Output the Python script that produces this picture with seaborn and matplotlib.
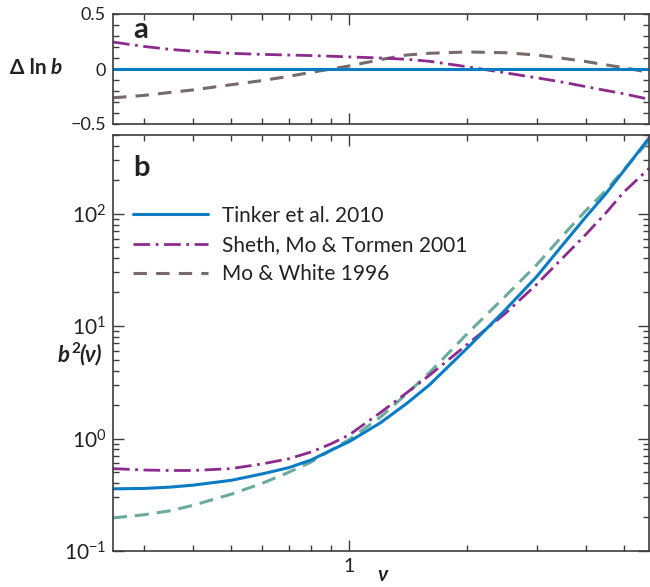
import numpy as np
import pandas as pd
import matplotlib
matplotlib.use("Agg")
import matplotlib.pyplot as plt
import matplotlib.ticker as mticker
import seaborn as sns

# Peak height grid
nu = [0.25, 0.3, 0.35, 0.4, 0.5, 0.6, 0.7, 0.8, 0.9, 1.0, 1.2, 1.4, 1.6,
      2.0, 2.5, 3.0, 3.5, 4.0, 4.5, 5.0, 5.8]

# b^2(nu) for each bias model
b2_tinker = [0.357, 0.36, 0.37, 0.385, 0.425, 0.485, 0.55, 0.645, 0.79, 0.94,
             1.38, 2.05, 3.0, 6.4, 14.0, 27.5, 53, 93, 150, 240, 470]
b2_smt = [0.54, 0.525, 0.52, 0.52, 0.54, 0.595, 0.66, 0.76, 0.9, 1.08,
          1.7, 2.55, 3.65, 6.9, 13.0, 23.5, 40.5, 65, 101, 155, 252]
b2_mw = [0.197, 0.21, 0.228, 0.255, 0.32, 0.40, 0.50, 0.62, 0.79, 0.98,
         1.55, 2.5, 3.85, 8.6, 18.5, 35, 64, 106, 160, 245, 445]

# Delta ln b relative to Tinker et al. 2010
dlnb_tinker = [0.0] * len(nu)
dlnb_smt = [0.245, 0.205, 0.178, 0.162, 0.142, 0.133, 0.127, 0.122, 0.116, 0.11,
            0.10, 0.088, 0.07, 0.02, -0.035, -0.08, -0.12, -0.16, -0.195, -0.225, -0.275]
dlnb_mw = [-0.262, -0.24, -0.213, -0.19, -0.143, -0.105, -0.067, -0.03, 0.0, 0.028,
           0.085, 0.127, 0.143, 0.155, 0.148, 0.127, 0.097, 0.068, 0.038, 0.012, -0.03]

labels = ["Tinker et al. 2010", "Sheth, Mo & Tormen 2001", "Mo & White 1996"]

sns.set_style("ticks")
plt.rcParams["font.family"] = ["Lato", "DejaVu Sans"]
plt.rcParams["mathtext.fontset"] = "custom"
plt.rcParams["mathtext.rm"] = "Lato"
plt.rcParams["mathtext.it"] = "Lato:italic"
plt.rcParams["mathtext.bf"] = "Lato:bold"
plt.rcParams["axes.unicode_minus"] = True

BLUE = "#0a7cc4"
PURPLE = "#8c2a8e"
GREY = "#786a6b"
TEAL = "#6aab9e"
SPINE = "#3c3c3c"
INK = "#222222"

solid = "-"
dashdot = (0, (6.0, 2.0, 1.0, 2.0))
dashed = (0, (4.4, 3.0))
dashed_teal = (0, (4.6, 2.6))
LW = 2.0

df = pd.DataFrame({"nu": nu, "tinker": b2_tinker, "smt": b2_smt, "mw": b2_mw,
                   "d_tinker": dlnb_tinker, "d_smt": dlnb_smt, "d_mw": dlnb_mw})

fig = plt.figure(figsize=(6.5, 5.87), dpi=100)
W, H = 650.0, 587.0
left, right = 113 / W, 649 / W
ax_a = fig.add_axes([left, 1 - 124 / H, right - left, (124 - 14) / H])
ax_b = fig.add_axes([left, 1 - 551 / H, right - left, (551 - 135) / H])

# Panel a: relative difference in ln b
sns.lineplot(data=df, x="nu", y="d_mw", ax=ax_a, color=GREY, lw=LW + 0.2,
             linestyle=dashed, label=labels[2])
sns.lineplot(data=df, x="nu", y="d_smt", ax=ax_a, color=PURPLE, lw=LW,
             linestyle=dashdot, label=labels[1])
sns.lineplot(data=df, x="nu", y="d_tinker", ax=ax_a, color=BLUE, lw=LW + 0.2,
             linestyle=solid, label=labels[0])
ax_a.get_legend().remove()

# Panel b: squared bias
sns.lineplot(data=df, x="nu", y="mw", ax=ax_b, color=TEAL, lw=LW + 0.2,
             linestyle=dashed_teal)
sns.lineplot(data=df, x="nu", y="smt", ax=ax_b, color=PURPLE, lw=LW,
             linestyle=dashdot)
sns.lineplot(data=df, x="nu", y="tinker", ax=ax_b, color=BLUE, lw=LW + 0.2,
             linestyle=solid)

for ax in (ax_a, ax_b):
    ax.set_xscale("log")
    ax.set_xlim(0.25, 5.8)
    ax.xaxis.set_major_locator(mticker.FixedLocator([1.0]))
    ax.xaxis.set_minor_locator(mticker.FixedLocator(
        [0.3, 0.4, 0.5, 0.6, 0.7, 0.8, 0.9, 2, 3, 4, 5]))
    ax.xaxis.set_minor_formatter(mticker.NullFormatter())
    ax.tick_params(which="both", direction="in", top=True, right=True,
                   color=SPINE, width=1.0, labelsize=14, pad=5,
                   labelcolor=INK)
    ax.tick_params(which="major", length=8)
    ax.tick_params(which="minor", length=4.5)
    for s in ax.spines.values():
        s.set_color(SPINE)
        s.set_linewidth(1.2)
    ax.set_xlabel("")
    ax.set_ylabel("")

ax_a.set_ylim(-0.5, 0.5)
ax_a.yaxis.set_major_locator(mticker.FixedLocator([-0.5, 0, 0.5]))
ax_a.yaxis.set_major_formatter(mticker.FixedFormatter(["\u22120.5", "0", "0.5"]))
ax_a.yaxis.set_minor_locator(mticker.MultipleLocator(0.1))
ax_a.tick_params(axis="y", which="both", length=4.5, labelsize=13)
ax_a.xaxis.set_major_formatter(mticker.NullFormatter())

ax_b.set_yscale("log")
ax_b.set_ylim(0.1, 500)
ax_b.yaxis.set_major_locator(mticker.LogLocator(base=10, numticks=10))
ax_b.yaxis.set_minor_locator(mticker.LogLocator(base=10, subs=np.arange(2, 10), numticks=20))
ax_b.yaxis.set_minor_formatter(mticker.NullFormatter())
ax_b.tick_params(axis="y", which="major", labelsize=15)
ax_b.xaxis.set_major_formatter(mticker.FixedFormatter(["1"]))

# Legend uses the panel-a line styles
handles = ax_a.get_lines()[::-1]
ax_b.legend(handles=handles, labels=labels, loc="upper left",
            bbox_to_anchor=(0.037, 0.83), frameon=False, fontsize=15,
            handlelength=3.6, handletextpad=0.67, labelspacing=0.45,
            borderaxespad=0, borderpad=0, labelcolor=INK)

# Panel letters
ax_a.text(0.037, 0.97, "a", transform=ax_a.transAxes, fontsize=21,
          fontweight="bold", va="top", ha="left", color=INK)
ax_b.text(0.037, 0.952, "b", transform=ax_b.transAxes, fontsize=21,
          fontweight="bold", va="top", ha="left", color=INK)

# Axis labels
fig.text(10 / W, 1 - 68 / H, "\u0394 ln ", fontsize=15, fontweight="bold",
         va="center", ha="left", color=INK)
fig.text(51 / W, 1 - 68 / H, "b", fontsize=15, fontweight="bold",
         style="italic", va="center", ha="left", color=INK)
fig.text(58 / W, 1 - 355 / H, "b", fontsize=16, fontweight="bold",
         style="italic", va="center", ha="left", color=INK)
fig.text(71 / W, 1 - 349 / H, "2", fontsize=11, fontweight="bold",
         va="center", ha="left", color=INK)
fig.text(79 / W, 1 - 355 / H, "(\u03bd)", fontsize=16, fontweight="bold",
         style="italic", va="center", ha="left", color=INK)
fig.text(382 / W, 1 - 575 / H, "\u03bd", fontsize=15, fontweight="bold",
         style="italic", va="center", ha="center", color=INK)

fig.savefig("out.png", dpi=100)
